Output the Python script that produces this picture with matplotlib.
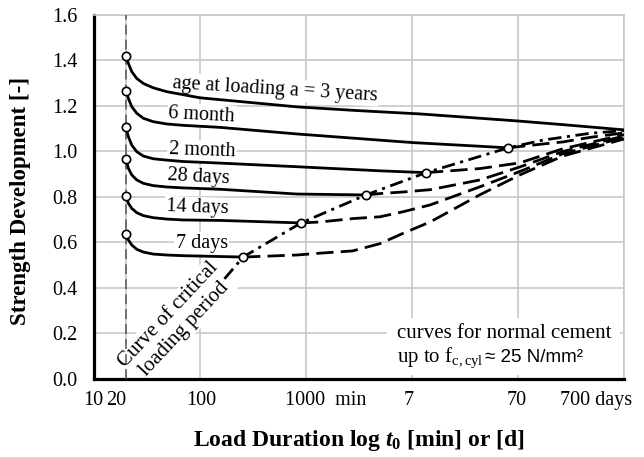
import matplotlib
matplotlib.use("Agg")
import matplotlib.pyplot as plt
from matplotlib.transforms import ScaledTranslation
from matplotlib.patches import Rectangle

plt.rcParams['font.family'] = ['Liberation Serif', 'DejaVu Serif']
plt.rcParams['mathtext.fontset'] = 'custom'
plt.rcParams['mathtext.it'] = 'Liberation Serif:italic:bold'
plt.rcParams['mathtext.rm'] = 'Liberation Serif'
plt.rcParams['mathtext.bf'] = 'Liberation Serif:bold'

# ---------------- data (load duration in minutes, strength ratio) ----------------
age_labels = ["age at loading a = 3 years", "6 month", "2 month", "28 days", "14 days", "7 days"]

# solid parts (loading before the critical period)
solid_3y_t = [20, 21.1, 22.7, 25.3, 29.2, 36.2, 48.5, 100, 830, 3000, 12000, 100000, 265000, 1000000]
solid_3y_v = [1.42, 1.387, 1.351, 1.321, 1.299, 1.28, 1.263, 1.236, 1.196, 1.18, 1.165, 1.134, 1.118, 1.095]
solid_6m_t = [20, 21.1, 22.7, 25.3, 29.2, 36.2, 48.5, 69.2, 154, 822, 10230, 40000, 80500]
solid_6m_v = [1.267, 1.233, 1.197, 1.168, 1.146, 1.131, 1.121, 1.115, 1.106, 1.077, 1.039, 1.024, 1.016]
solid_2m_t = [20, 21.1, 22.7, 25.3, 29.2, 36.2, 48.5, 69.2, 154, 822, 4990, 13550]
solid_2m_v = [1.106, 1.065, 1.028, 0.999, 0.98, 0.968, 0.962, 0.956, 0.949, 0.933, 0.915, 0.907]
solid_28d_t = [20, 21.1, 22.7, 25.3, 29.2, 36.2, 48.5, 69.2, 154, 822, 3680]
solid_28d_v = [0.967, 0.926, 0.897, 0.875, 0.86, 0.85, 0.844, 0.84, 0.834, 0.813, 0.809]
solid_14d_t = [20, 21.1, 22.7, 25.3, 29.2, 36.2, 48.5, 69.2, 154, 897]
solid_14d_v = [0.805, 0.772, 0.75, 0.731, 0.718, 0.709, 0.703, 0.699, 0.697, 0.686]
solid_7d_t = [20, 21.1, 22.7, 25.3, 29.2, 36.2, 48.5, 69.2, 255]
solid_7d_v = [0.637, 0.611, 0.589, 0.57, 0.558, 0.549, 0.545, 0.542, 0.536]

# dashed parts (after the critical loading period)
dash_6m_t = [80500, 120000, 172000, 265000, 478000, 1000000]
dash_6m_v = [1.016, 1.025, 1.033, 1.042, 1.062, 1.082]
dash_2m_t = [13550, 20000, 43800, 104000, 265000, 1000000]
dash_2m_v = [0.907, 0.913, 0.925, 0.95, 1.012, 1.074]
dash_28d_t = [3680, 4990, 8200, 14800, 43800, 104000, 265000, 1000000]
dash_28d_v = [0.809, 0.815, 0.822, 0.832, 0.875, 0.932, 1.0, 1.068]
dash_14d_t = [897, 1350, 2750, 4990, 8200, 14800, 43800, 104000, 265000, 1000000]
dash_14d_v = [0.686, 0.69, 0.705, 0.713, 0.735, 0.765, 0.845, 0.912, 0.99, 1.062]
dash_7d_t = [255, 820, 1350, 2750, 4990, 8200, 14800, 43800, 104000, 265000, 1000000]
dash_7d_v = [0.536, 0.545, 0.553, 0.563, 0.595, 0.64, 0.69, 0.81, 0.897, 0.98, 1.055]

# curve of critical loading period
crit_t = [170, 255, 897, 3680, 13550, 80500, 172000, 478000, 1000000]
crit_v = [0.44, 0.536, 0.686, 0.809, 0.907, 1.016, 1.05, 1.08, 1.092]

x_ticks = [10, 20, 100, 1000, 10000, 100000, 1000000]
x_tick_labels = ["10", "20", "100", "1000  min", "7", "70", "700 days"]
y_ticks = [0.0, 0.2, 0.4, 0.6, 0.8, 1.0, 1.2, 1.4, 1.6]
y_tick_labels = ["0.0", "0.2", "0.4", "0.6", "0.8", "1.0", "1.2", "1.4", "1.6"]

# ---------------- figure ----------------
fig = plt.figure(figsize=(6.44, 4.57), dpi=100)
ax = fig.add_axes([0.146, 0.1707, 0.823, 0.7965])
ax.set_xscale('log')
ax.set_xlim(10, 1e6)
ax.set_ylim(0, 1.6)

ax.set_axisbelow(True)
ax.grid(True, which='major', color='#c8c8c8', lw=1.2)
ax.minorticks_off()
for s in ['left', 'bottom']:
    ax.spines[s].set_color('black')
    ax.spines[s].set_linewidth(2.3)
for s in ['top', 'right']:
    ax.spines[s].set_color('#c8c8c8')
    ax.spines[s].set_linewidth(1.2)

ax.set_xticks(x_ticks)
ax.set_xticklabels(x_tick_labels, fontsize=14.5)
ax.set_yticks(y_ticks)
ax.set_yticklabels(y_tick_labels, fontsize=14.5)
ax.tick_params(axis='both', length=0)
ax.tick_params(axis='x', pad=9)
ax.tick_params(axis='y', pad=12)

# small horizontal shifts of x tick labels as in the original
shifts = [-1, -10, 1, 20, -3, -1, -28]
for lbl, dx in zip(ax.get_xticklabels(), shifts):
    lbl.set_transform(lbl.get_transform() + ScaledTranslation(dx / 100.0, 0, fig.dpi_scale_trans))

ax.set_xlabel(r"Load Duration log $\mathit{t}_\mathregular{0}$ [min] or [d]", fontsize=17, fontweight='bold')
ax.xaxis.set_label_coords(0.5, -0.135)
ax.set_ylabel("Strength Development [-]", fontsize=16.5, fontweight='bold')
ax.yaxis.set_label_coords(-0.118, 0.49)

# vertical dashed line at 20 min
ax.axvline(20, color='#555555', lw=1.1, ls=(0, (6.5, 3.3)), zorder=3)

lw = 2.0
solid = [(solid_3y_t, solid_3y_v), (solid_6m_t, solid_6m_v), (solid_2m_t, solid_2m_v),
         (solid_28d_t, solid_28d_v), (solid_14d_t, solid_14d_v), (solid_7d_t, solid_7d_v)]
for t, v in solid:
    ax.plot(t, v, color='black', lw=lw, solid_capstyle='round', zorder=3)

dashed = [(dash_6m_t, dash_6m_v), (dash_2m_t, dash_2m_v), (dash_28d_t, dash_28d_v),
          (dash_14d_t, dash_14d_v), (dash_7d_t, dash_7d_v)]
for t, v in dashed:
    ax.plot(t, v, color='black', lw=lw, ls=(0, (6.2, 2.6)), zorder=3)

ax.plot(crit_t, crit_v, color='black', lw=lw, ls=(0, (4.8, 2.0, 1.1, 2.0)), zorder=3)

# markers: start of loading and critical points
start_t = [c[0][0] for c in solid]
start_v = [c[1][0] for c in solid]
ax.plot(start_t, start_v, 'o', mfc='white', mec='black', ms=6, mew=1.2, zorder=4)
ax.plot(crit_t[1:6], crit_v[1:6], 'o', mfc='white', mec='black', ms=6, mew=1.2, zorder=4)

# curve labels
box = dict(facecolor='white', edgecolor='none', pad=1.0)
label_pos = [(505, 1.273, -3.5), (104, 1.160, -3), (104, 1.002, -2),
             (96, 0.888, -3), (94, 0.752, -2), (104, 0.596, 0)]
for txt, (x, y, r) in zip(age_labels, label_pos):
    ax.text(x, y, txt, fontsize=14.5, ha='center', va='center', rotation=r,
            rotation_mode='anchor', bbox=box, zorder=2.5)

ax.text(59.4, 0.25, "Curve of critical\nloading period", fontsize=15, rotation=47,
        ha='center', va='center', rotation_mode='anchor', multialignment='center',
        bbox=box, zorder=2.5)

# note box
ax.add_patch(Rectangle((0.553, 0.011), 0.439, 0.157, transform=ax.transAxes,
                       facecolor='white', edgecolor='none', zorder=2))
ax.text(0.572, 0.126, "curves for normal cement", transform=ax.transAxes,
        fontsize=15, ha='left', va='center', zorder=2.5)
ax.text(0.572, 0.058, r"up to f$_\mathregular{c,cyl}$", transform=ax.transAxes,
        fontsize=15, ha='left', va='center', zorder=2.5)
ax.text(0.737, 0.058, "≈ 25 N/mm²", transform=ax.transAxes,
        fontsize=13.5, ha='left', va='center', zorder=2.5,
        family=['Liberation Sans', 'DejaVu Sans'])

fig.savefig("out.png", dpi=100)
